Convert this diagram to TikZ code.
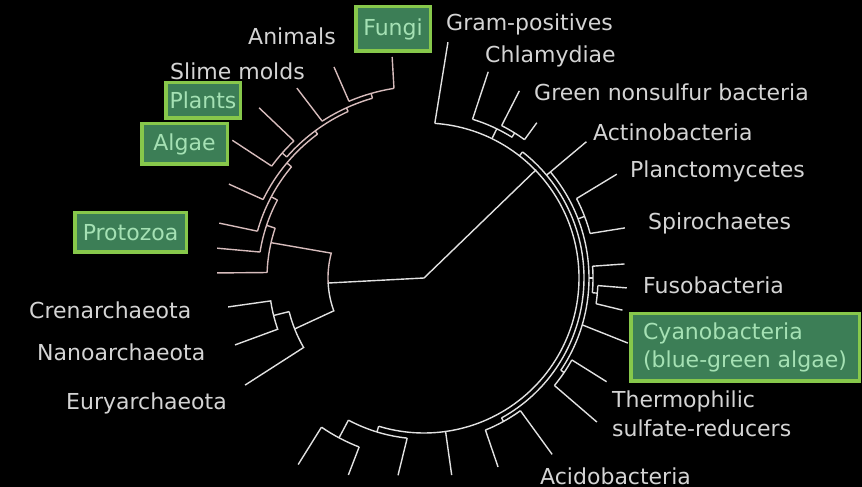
\documentclass[tikz,border=0pt]{standalone}
\usepackage{fontspec}
\setmainfont{DejaVu Sans}
\usepackage{xcolor}
\definecolor{linegray}{RGB}{225,225,225}
\definecolor{linepink}{RGB}{215,188,188}
\definecolor{textgray}{RGB}{212,212,212}
\definecolor{boxgreen}{RGB}{60,126,86}
\definecolor{boxlime}{RGB}{135,200,75}
\definecolor{boxtext}{RGB}{165,225,180}

\begin{document}
\begin{tikzpicture}[x=1pt,y=1pt,
  bline/.style={linegray, line width=1.4pt},
  eline/.style={linepink, line width=1.4pt},
  lbl/.style={textgray, font=\fontsize{22}{29}\selectfont, inner sep=0pt, anchor=base west},
  tagbox/.style={fill=boxgreen, draw=boxlime, line width=3.5pt, text=boxtext,
    font=\fontsize{22}{28.5}\selectfont, inner sep=0pt}]

% Background
\fill[black] (0,0) rectangle (862,487);
\useasboundingbox (0,0) rectangle (862,487);

% Centre of the tree
\coordinate (C) at (424,209);

% Root branches
\draw[bline] (C) -- ([shift={(C)}]44:156);
\draw[bline] (C) -- ([shift={(C)}]183:96);

% Bacteria: arcs (radius/start/end)
\foreach \r/\a/\b in {155/86/-107, 160/52/-61, 165/40/-34, 166/73/58, 171/63/54,
  172/27.5/15, 169/4/-5, 174/-2.5/-8.5, 169/-29/-39.5, 164/-54/-68,
  161/-96/-118, 181/-111/-124.5} {
    \draw[bline] ([shift={(C)}]\a:\r) arc[start angle=\a, end angle=\b, radius=\r];
}

% Bacteria: short stems (angle/inner/outer)
\foreach \a/\i/\o in {52/155/160, 64/155/166, 58/166/171, 21/165/172, 0/165/169,
  -5/169/174, -34/165/169, -61/160/164, -107/155/161, -118/161/181} {
    \draw[bline] ([shift={(C)}]\a:\i) -- ([shift={(C)}]\a:\o);
}

% Bacteria: leaves (inner angle/inner radius/outer angle/outer radius)
\foreach \ai/\ri/\ao/\ro in {86/155/84.2/237, 73/166/72.7/216, 63/171/63/210,
  54/171/54/192, 40/160/40/212, 27.5/172/28.3/219, 15/172/14/207, 4/169/4/201,
  -2.5/174/-2.8/203, -8.5/174/-9.2/201, -16.5/165/-17.7/214, -29/169/-29.6/210,
  -39.5/169/-39.8/225, -54/164/-54/218, -68/164/-68.6/203, -82/155/-82/199,
  -96/161/-97.5/199, -111/181/-111/211, -124.5/181/-124/225} {
    \draw[bline] ([shift={(C)}]\ai:\ri) -- ([shift={(C)}]\ao:\ro);
}

% Split between eukaryotes and archaea
\draw[eline] ([shift={(C)}]183:96) arc[start angle=183, end angle=165, radius=96]
  -- ([shift={(C)}]167:157);
\draw[bline] ([shift={(C)}]183:96) arc[start angle=183, end angle=200, radius=96]
  -- ([shift={(C)}]201.5:139);

% Eukaryotes
\foreach \r/\a/\b in {157/161.5/178, 166/152/171, 173/140/164.3, 179/126.5/154,
  183/114.5/138.6, 187/106/123, 192/99/113, 189/133.5/143.7} {
    \draw[eline] ([shift={(C)}]\a:\r) arc[start angle=\a, end angle=\b, radius=\r];
}
\foreach \a/\i/\o in {161.5/157/166, 152/166/173, 140/173/179, 126.5/179/183,
  114.5/183/187, 106/187/192, 138.6/183/189} {
    \draw[eline] ([shift={(C)}]\a:\i) -- ([shift={(C)}]\a:\o);
}
\foreach \ai/\ri/\ao/\ro in {178/157/178.6/207, 171/166/171.8/209, 164.3/173/165/212,
  154/179/154.3/216.5, 143.7/189/144.3/236, 133.5/189/134.1/237, 123/187/123.8/228.5,
  113/192/113.1/229.4, 99/192/98.2/223.3} {
    \draw[eline] ([shift={(C)}]\ai:\ri) -- ([shift={(C)}]\ao:\ro);
}

% Archaea
\draw[bline] ([shift={(C)}]194:139) arc[start angle=194, end angle=210, radius=139]
  -- ([shift={(C)}]210.9:208.5);
\draw[bline] ([shift={(C)}]194:139) -- ([shift={(C)}]194:155);
\draw[bline] ([shift={(C)}]188.4:198) -- ([shift={(C)}]188.5:155)
  arc[start angle=188.5, end angle=199.3, radius=155] -- ([shift={(C)}]199.5:200.5);

% Labels, bacteria
\node[lbl] (gram) at (446,456) {Gram-positives};
\node[lbl] (chlam) at (485,424) {Chlamydiae};
\node[lbl] (greenns) at (534,386) {Green nonsulfur bacteria};
\node[lbl] (actino) at (593,346) {Actinobacteria};
\node[lbl] (plancto) at (630,309) {Planctomycetes};
\node[lbl] (spiro) at (648,257) {Spirochaetes};
\node[lbl] (fuso) at (643,193) {Fusobacteria};
\node[tagbox, minimum width=228.5, minimum height=67.5, align=left] (cyano) at (745,139.5)
  {Cyanobacteria\\(blue-green algae)};
\node[lbl, align=left] (thermo) at (612,50) {Thermophilic\\sulfate-reducers};
\node[lbl] (acido) at (540,2.7) {Acidobacteria};

% Labels, archaea
\node[lbl] (cren) at (29,168.3) {Crenarchaeota};
\node[lbl] (nano) at (37,126) {Nanoarchaeota};
\node[lbl] (eury) at (66,77.7) {Euryarchaeota};

% Labels, eukaryotes
\node[tagbox, minimum width=111.5, minimum height=39.5] (protozoa) at (130.5,254.5) {Protozoa};
\node[tagbox, minimum width=85.5, minimum height=40.5] (algae) at (184.5,343) {Algae};
\node[tagbox, minimum width=74.5, minimum height=35.5] (plants) at (203,386.5) {Plants};
\node[lbl] (slime) at (170,407) {Slime molds};
\node[lbl] (animals) at (248,442) {Animals};
\node[tagbox, minimum width=74.5, minimum height=44.5] (fungi) at (393,458) {Fungi};

\end{tikzpicture}
\end{document}
